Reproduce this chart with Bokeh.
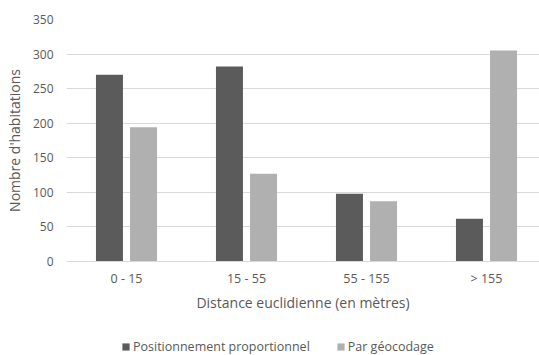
from bokeh.plotting import figure
from bokeh.layouts import column
from bokeh.models import Range1d, FixedTicker, Legend, LegendItem, ColumnDataSource
from bokeh.embed import file_html
from bokeh.resources import INLINE

categories = ["0 - 15", "15 - 55", "55 - 155", "> 155"]
proportionnel = [270, 282, 98, 62]
geocodage = [194, 127, 87, 305]
y_ticks = [0, 50, 100, 150, 200, 250, 300, 350]

DARK = "#5b5b5b"
LIGHT = "#b0b0b0"
TXT = "#595959"
FONT = "Open Sans"

centers = [i + 0.5 for i in range(len(categories))]
offset = 0.142
bw = 0.225

src = ColumnDataSource(dict(
    x1=[c - offset for c in centers],
    x2=[c + offset for c in centers],
    p=proportionnel,
    g=geocodage,
))

W = 539
H_MAIN = 330
H_LEG = 25

p = figure(width=W, height=H_MAIN, output_backend="svg", toolbar_location=None,
           x_range=Range1d(0, 473 / 120), y_range=Range1d(0, 350),
           min_border_left=66, min_border_right=0, min_border_top=19,
           min_border_bottom=H_MAIN - 261)
p.outline_line_color = None
p.background_fill_color = "white"
p.border_fill_color = "white"

r1 = p.vbar(x="x1", top="p", width=bw, source=src, fill_color=DARK, line_color=None)
r2 = p.vbar(x="x2", top="g", width=bw, source=src, fill_color=LIGHT, line_color=None)

p.xgrid.visible = False
p.ygrid.grid_line_color = "#d9d9d9"
p.ygrid.grid_line_width = 1
p.ygrid.ticker = FixedTicker(ticks=y_ticks)

p.yaxis.ticker = FixedTicker(ticks=y_ticks)
p.yaxis.axis_line_color = None
p.yaxis.major_tick_line_color = None
p.yaxis.major_tick_out = 0
p.yaxis.major_tick_in = 0
p.yaxis.minor_tick_line_color = None
p.yaxis.minor_tick_out = 0
p.yaxis.major_label_standoff = 13
p.yaxis.major_label_text_font = FONT
p.yaxis.major_label_text_font_size = "12px"
p.yaxis.major_label_text_color = TXT
p.yaxis.axis_label = "Nombre d'habitations"
p.yaxis.axis_label_text_font = FONT
p.yaxis.axis_label_text_font_size = "14px"
p.yaxis.axis_label_text_font_style = "normal"
p.yaxis.axis_label_text_color = TXT
p.yaxis.axis_label_standoff = 6

p.xaxis.ticker = FixedTicker(ticks=centers)
p.xaxis.major_label_overrides = {c: lab for c, lab in zip(centers, categories)}
p.xaxis.axis_line_color = "#d9d9d9"
p.xaxis.major_tick_line_color = None
p.xaxis.major_tick_out = 0
p.xaxis.major_tick_in = 0
p.xaxis.minor_tick_line_color = None
p.xaxis.minor_tick_out = 0
p.xaxis.major_label_standoff = 8
p.xaxis.major_label_text_font = FONT
p.xaxis.major_label_text_font_size = "12.5px"
p.xaxis.major_label_text_color = TXT
p.xaxis.axis_label = "Distance euclidienne (en mètres)"
p.xaxis.axis_label_text_font = FONT
p.xaxis.axis_label_text_font_size = "14px"
p.xaxis.axis_label_text_font_style = "normal"
p.xaxis.axis_label_text_color = TXT
p.xaxis.axis_label_standoff = 3

# Legend strip (bars are kept out of view; only legend swatches show)
q = figure(width=W, height=H_LEG, output_backend="svg", toolbar_location=None,
           x_range=Range1d(0, 1), y_range=Range1d(1000, 1001),
           min_border=0, x_axis_location=None, y_axis_location=None)
q.outline_line_color = None
q.grid.visible = False
l1 = q.vbar(x="x1", top="p", width=bw, source=src, fill_color=DARK, line_color=None)
l2 = q.vbar(x="x2", top="g", width=bw, source=src, fill_color=LIGHT, line_color=None)

legend = Legend(items=[
    LegendItem(label="Positionnement proportionnel", renderers=[l1]),
    LegendItem(label="Par géocodage", renderers=[l2]),
], orientation="horizontal", location=(55, 0))
legend.border_line_color = None
legend.background_fill_alpha = 0
legend.glyph_width = 9
legend.glyph_height = 9
legend.label_text_font = FONT
legend.label_text_font_size = "12.5px"
legend.label_text_color = TXT
legend.label_standoff = 3
legend.spacing = 26
legend.padding = 0
legend.margin = 0
legend.label_height = 12
q.add_layout(legend, "center")

layout = column(p, q, spacing=0)
open("out.html", "w").write(file_html(layout, INLINE))
